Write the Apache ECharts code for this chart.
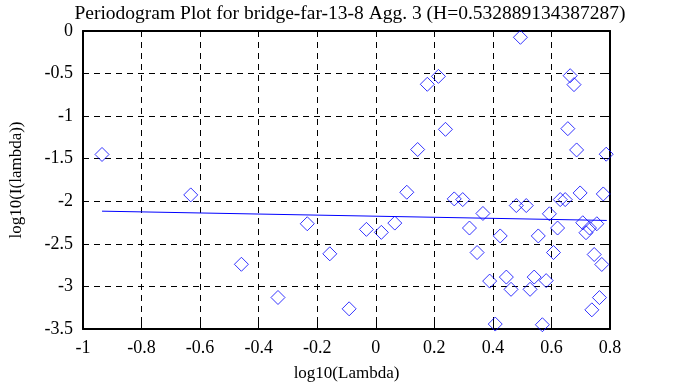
<!DOCTYPE html>
<html><head><meta charset="utf-8">
<script src="https://cdn.jsdelivr.net/npm/echarts@6/dist/echarts.min.js"></script>
<style>html,body{margin:0;padding:0;background:#fff}#c{width:678px;height:387px}</style>
</head><body><div id="c"></div>
<script>
const titleText = "Periodogram Plot for bridge-far-13-8 Agg. 3 (H=0.532889134387287)";
const xName = "log10(Lambda)";
const yName = "log10(I(lambda))";
const logLambda = [-0.935,-0.632,-0.459,-0.334,-0.234,-0.157,-0.091,-0.032,0.019,0.065,0.106,0.143,0.176,0.214,0.238,0.268,0.297,0.320,0.346,0.366,0.389,0.408,0.425,0.446,0.462,0.480,0.494,0.514,0.527,0.541,0.555,0.569,0.582,0.593,0.607,0.621,0.630,0.647,0.656,0.664,0.677,0.686,0.698,0.707,0.718,0.730,0.738,0.746,0.755,0.764,0.772,0.777,0.787];
const logI = [-1.45,-1.925,-2.74,-3.13,-2.264,-2.617,-3.263,-2.33,-2.365,-2.256,-1.894,-1.392,-0.626,-0.533,-1.155,-1.972,-1.98,-2.314,-2.602,-2.143,-2.937,-3.442,-2.407,-2.89,-3.034,-2.05,-0.074,-2.05,-3.034,-2.89,-2.407,-3.45,-2.932,-2.147,-2.602,-2.314,-1.98,-1.98,-1.147,-0.525,-0.63,-1.397,-1.902,-2.252,-2.369,-2.314,-3.275,-2.625,-2.264,-3.131,-2.742,-1.914,-1.447];
const fitX = [-0.935, 0.789];
const fitY = [-2.116, -2.225];

const font = "'Liberation Serif','DejaVu Serif',serif";
const fmt = v => String(+(+v).toFixed(1));
const chart = echarts.init(document.getElementById('c'));
const baseX = {type:'value',min:-1,max:0.8,interval:0.2};
const baseY = {type:'value',min:-3.5,max:0,interval:0.5};
chart.setOption({
  animation:false,
  title:{text:titleText,left:345,top:-1,textAlign:'center',textStyle:{fontFamily:font,fontSize:19.5,fontWeight:'normal',color:'#000'}},
  grid:{left:82,right:68,top:31,bottom:56},
  xAxis:[
    Object.assign({},baseX,{position:'bottom',name:xName,nameLocation:'middle',nameGap:36,
      nameTextStyle:{fontFamily:font,fontSize:17,color:'#000'},
      axisLine:{show:true,onZero:false,lineStyle:{color:'#000',width:2}},
      axisTick:{show:true,inside:true,length:6,lineStyle:{color:'#000'}},
      axisLabel:{formatter:fmt,fontFamily:font,fontSize:18,color:'#000',margin:10},
      splitLine:{show:true,lineStyle:{color:'#000',type:[6,5],width:1}}}),
    Object.assign({},baseX,{position:'top',
      axisLine:{show:true,onZero:false,lineStyle:{color:'#000',width:2}},
      axisTick:{show:true,inside:true,length:6,lineStyle:{color:'#000'}},
      axisLabel:{show:false},splitLine:{show:false}})
  ],
  yAxis:[
    Object.assign({},baseY,{position:'left',name:yName,nameLocation:'middle',nameGap:58,nameRotate:90,
      nameTextStyle:{fontFamily:font,fontSize:17,color:'#000'},
      axisLine:{show:true,onZero:false,lineStyle:{color:'#000',width:2}},
      axisTick:{show:true,inside:true,length:6,lineStyle:{color:'#000'}},
      axisLabel:{formatter:fmt,fontFamily:font,fontSize:18,color:'#000',margin:10},
      splitLine:{show:true,lineStyle:{color:'#000',type:[6,5],width:1}}}),
    Object.assign({},baseY,{position:'right',
      axisLine:{show:true,onZero:false,lineStyle:{color:'#000',width:2}},
      axisTick:{show:true,inside:true,length:6,lineStyle:{color:'#000'}},
      axisLabel:{show:false},splitLine:{show:false}})
  ],
  series:[
    {type:'scatter',symbol:'diamond',symbolSize:[14,14],
     data:logLambda.map((x,i)=>[x,logI[i]]),
     itemStyle:{color:'rgba(0,0,0,0)',borderColor:'#0000ff',borderWidth:1}},
    {type:'line',data:fitX.map((x,i)=>[x,fitY[i]]),showSymbol:false,
     lineStyle:{color:'#0000ff',width:1}}
  ]
});
</script></body></html>
